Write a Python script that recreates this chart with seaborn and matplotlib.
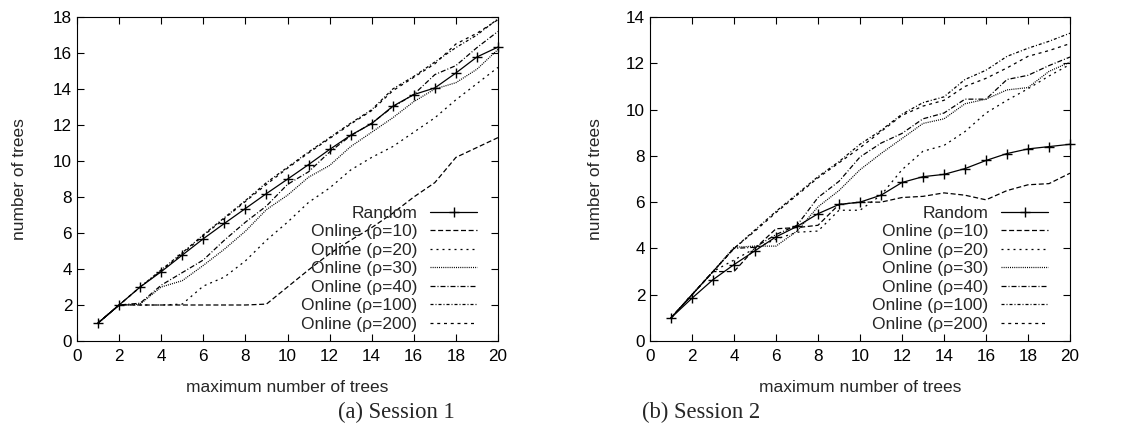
import matplotlib
matplotlib.use("Agg")
import matplotlib.pyplot as plt
import seaborn as sns
import pandas as pd

# ---------------- data ----------------
x_vals = list(range(1, 21))
series_names = ["Random", "Online (ρ=10)", "Online (ρ=20)", "Online (ρ=30)",
                "Online (ρ=40)", "Online (ρ=100)", "Online (ρ=200)"]

# Session 1
s1_random = [1.0, 2.0, 3.0, 3.85, 4.77, 5.68, 6.53, 7.36, 8.19, 8.99,
             9.80, 10.64, 11.43, 12.08, 13.04, 13.69, 14.06, 14.89, 15.78, 16.33]
s1_rho10 = [1.0, 2.0, 2.0, 2.0, 2.0, 2.0, 2.0, 2.0, 2.05, 3.0,
            3.95, 4.85, 5.6, 6.3, 7.1, 8.0, 8.8, 10.2, 10.75, 11.3]
s1_rho20 = [1.0, 2.0, 2.0, 2.0, 2.05, 3.05, 3.55, 4.45, 5.6, 6.6,
            7.7, 8.5, 9.5, 10.2, 10.8, 11.6, 12.4, 13.4, 14.3, 15.2]
s1_rho30 = [1.0, 2.0, 2.05, 3.0, 3.35, 4.2, 5.1, 6.1, 7.3, 8.1,
            9.1, 9.75, 10.8, 11.6, 12.4, 13.3, 14.0, 14.35, 15.1, 16.2]
s1_rho40 = [1.0, 2.0, 2.1, 3.1, 3.8, 4.5, 5.6, 6.6, 7.5, 8.7,
            9.4, 10.5, 11.4, 12.1, 13.0, 13.7, 14.8, 15.3, 16.3, 17.2]
s1_rho100 = [1.0, 2.0, 3.0, 3.95, 4.9, 5.9, 6.85, 7.8, 8.8, 9.65,
             10.5, 11.3, 12.1, 12.85, 14.0, 14.7, 15.5, 16.3, 17.0, 17.9]
s1_rho200 = [1.0, 2.0, 3.0, 3.9, 4.85, 5.85, 6.8, 7.75, 8.7, 9.6,
             10.45, 11.25, 12.05, 12.8, 13.9, 14.65, 15.4, 16.5, 17.1, 17.85]

# Session 2
s2_random = [1.0, 1.85, 2.65, 3.3, 3.9, 4.5, 4.95, 5.5, 5.9, 6.0,
             6.3, 6.85, 7.1, 7.2, 7.45, 7.8, 8.1, 8.3, 8.4, 8.5]
s2_rho10 = [1.0, 2.0, 3.0, 3.0, 4.0, 4.85, 4.9, 5.0, 5.9, 6.0,
            6.0, 6.2, 6.25, 6.4, 6.3, 6.1, 6.5, 6.75, 6.8, 7.25]
s2_rho20 = [1.0, 2.0, 3.0, 3.5, 4.0, 4.4, 4.7, 4.75, 5.65, 5.65,
            6.3, 7.4, 8.2, 8.45, 9.05, 9.85, 10.4, 10.9, 11.45, 11.95]
s2_rho30 = [1.0, 2.0, 3.0, 4.05, 4.1, 4.1, 4.75, 5.8, 6.5, 7.4,
            8.1, 8.75, 9.4, 9.6, 10.25, 10.45, 10.85, 10.95, 11.65, 12.05]
s2_rho40 = [1.0, 2.0, 3.0, 4.0, 4.05, 4.6, 5.0, 6.2, 6.9, 7.95,
            8.55, 8.97, 9.6, 9.85, 10.45, 10.45, 11.3, 11.48, 11.9, 12.27]
s2_rho100 = [1.0, 2.0, 3.0, 4.0, 4.8, 5.6, 6.35, 7.1, 7.75, 8.5,
             9.1, 9.8, 10.3, 10.55, 11.3, 11.7, 12.3, 12.65, 12.95, 13.3]
s2_rho200 = [1.0, 2.0, 3.0, 4.0, 4.75, 5.55, 6.3, 7.05, 7.7, 8.35,
             9.05, 9.75, 10.15, 10.4, 11.0, 11.35, 11.8, 12.3, 12.55, 12.85]

session1 = [s1_random, s1_rho10, s1_rho20, s1_rho30, s1_rho40, s1_rho100, s1_rho200]
session2 = [s2_random, s2_rho10, s2_rho20, s2_rho30, s2_rho40, s2_rho100, s2_rho200]

x_ticks = list(range(0, 21, 2))
y_ticks1 = list(range(0, 19, 2))
y_ticks2 = list(range(0, 15, 2))
x_label = "maximum number of trees"
y_label = "number of trees"
captions = ["(a) Session 1", "(b) Session 2"]

# ---------------- style ----------------
sns.set_style("ticks")
plt.rcParams["font.family"] = ["Liberation Sans", "DejaVu Sans"]
plt.rcParams.update({
    "font.size": 12.3,
    "axes.linewidth": 0.8,
    "axes.edgecolor": "black",
    "xtick.direction": "in",
    "ytick.direction": "in",
    "xtick.top": True,
    "ytick.right": True,
    "xtick.major.size": 5,
    "ytick.major.size": 5,
    "xtick.major.width": 0.8,
    "ytick.major.width": 0.8,
    "xtick.color": "black",
    "ytick.color": "black",
    "xtick.labelsize": 12.3,
    "ytick.labelsize": 12.3,
    "xtick.major.pad": 6,
    "ytick.major.pad": 3.5,
})

styles = [
    dict(linestyle="-", marker="+", markersize=6.5, markeredgewidth=1.0,
         markeredgecolor="black", clip_on=False),
    dict(linestyle=(0, (4, 2.1))),
    dict(linestyle=(0, (1.6, 3.2))),
    dict(linestyle=(0, (0.8, 0.9))),
    dict(linestyle=(0, (4, 1.6, 0.8, 1.6))),
    dict(linestyle=(0, (2.4, 1.6, 0.8, 1.6))),
    dict(linestyle=(0, (2.4, 3.0))),
]

fig = plt.figure(figsize=(11.33, 4.28), dpi=100)
ax1 = fig.add_axes([77 / 1133, 1 - 341 / 428, 421 / 1133, 324 / 428])
ax2 = fig.add_axes([650 / 1133, 1 - 341 / 428, 420 / 1133, 324 / 428])

panels = [(ax1, session1, y_ticks1, 18, 0.950, -0.1185),
          (ax2, session2, y_ticks2, 14, 0.948, -0.1115)]

for ax, data, yt, ymax, leg_x, ylab_x in panels:
    for name, vals, st in zip(series_names, data, styles):
        df = pd.DataFrame({"x": x_vals, "y": vals})
        sns.lineplot(data=df, x="x", y="y", ax=ax, color="black", linewidth=0.9,
                     label=name, **st)
    ax.set_xlim(0, 20)
    ax.set_ylim(0, ymax)
    ax.set_xticks(x_ticks)
    ax.set_yticks(yt)
    for sp in ax.spines.values():
        sp.set_visible(True)
    ax.set_xlabel(x_label, fontsize=12.5)
    ax.set_ylabel(y_label, fontsize=12.5)
    ax.xaxis.set_label_coords(0.5, -0.12)
    ax.yaxis.set_label_coords(ylab_x, 0.5)
    ax.legend(loc="lower right", bbox_to_anchor=(leg_x, 0.029), frameon=False,
              markerfirst=False, handlelength=2.7, handletextpad=0.75,
              labelspacing=0.19, borderpad=0, borderaxespad=0, fontsize=12.5)

fig.text(338 / 1133, 1 - 412 / 428, captions[0], family="Liberation Serif",
         fontsize=16.3, va="center", ha="left")
fig.text(642 / 1133, 1 - 412 / 428, captions[1], family="Liberation Serif",
         fontsize=16.3, va="center", ha="left")

fig.savefig("out.png", dpi=100)
